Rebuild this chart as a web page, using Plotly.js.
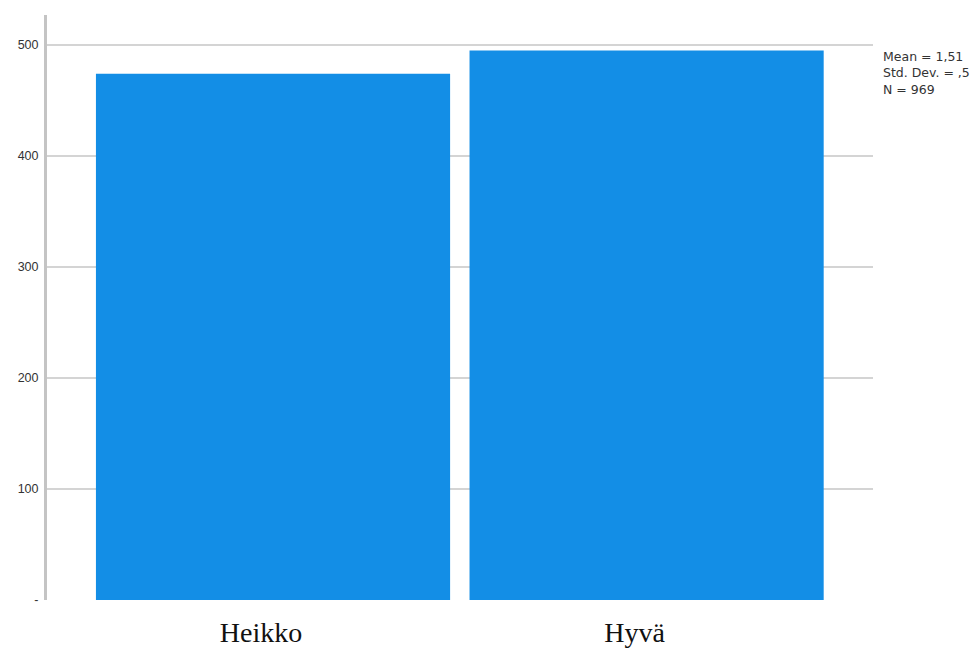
<!DOCTYPE html>
<html>
<head>
<meta charset="utf-8">
<script src="https://cdn.plot.ly/plotly-3.0.1.min.js"></script>
<style>html,body{margin:0;padding:0;background:#fff;}#chart{width:979px;height:653px;}</style>
</head>
<body>
<div id="chart"></div>
<script>
const categories = ["Heikko", "Hyvä"];
const counts = [474, 495];
const yTickVals = [0, 100, 200, 300, 400, 500];
const yTickText = ["-", "100", "200", "300", "400", "500"];
const statsLines = ["Mean = 1,51", "Std. Dev. = ,5", "N = 969"];

const trace = {
  type: "bar",
  x: categories,
  y: counts,
  marker: {color: "#138ee6", line: {width: 0}},
  hoverinfo: "x+y"
};

const layout = {
  width: 979,
  height: 653,
  margin: {l: 47, r: 106, t: 15, b: 53, pad: 0},
  paper_bgcolor: "#ffffff",
  plot_bgcolor: "#ffffff",
  bargap: 0.052,
  showlegend: false,
  xaxis: {
    type: "category",
    range: [-0.605, 1.606],
    showgrid: false,
    zeroline: false,
    showline: false,
    ticks: "outside",
    ticklen: 7,
    tickcolor: "rgba(0,0,0,0)",
    ticklabelshift: -12,
    tickfont: {family: "Liberation Serif, DejaVu Serif, serif", size: 28, color: "#111"}
  },
  yaxis: {
    range: [0, 527],
    tickvals: yTickVals,
    ticktext: yTickText,
    showgrid: true,
    gridcolor: "#d4d4d4",
    gridwidth: 2,
    zeroline: false,
    showline: true,
    linecolor: "#c4c4c4",
    linewidth: 3,
    ticks: "outside",
    ticklen: 3,
    tickcolor: "rgba(0,0,0,0)",
    tickfont: {family: "Liberation Sans, Arial, sans-serif", size: 12.5, color: "#333"}
  },
  annotations: [{
    xref: "paper", yref: "paper",
    x: 1, y: 0.946,
    xanchor: "left", yanchor: "top",
    xshift: 8,
    align: "left",
    showarrow: false,
    text: statsLines.join("<br>"),
    font: {family: "DejaVu Sans, sans-serif", size: 12.5, color: "#333"}
  }]
};

Plotly.newPlot("chart", [trace], layout, {displayModeBar: false, staticPlot: true});
</script>
</body>
</html>
